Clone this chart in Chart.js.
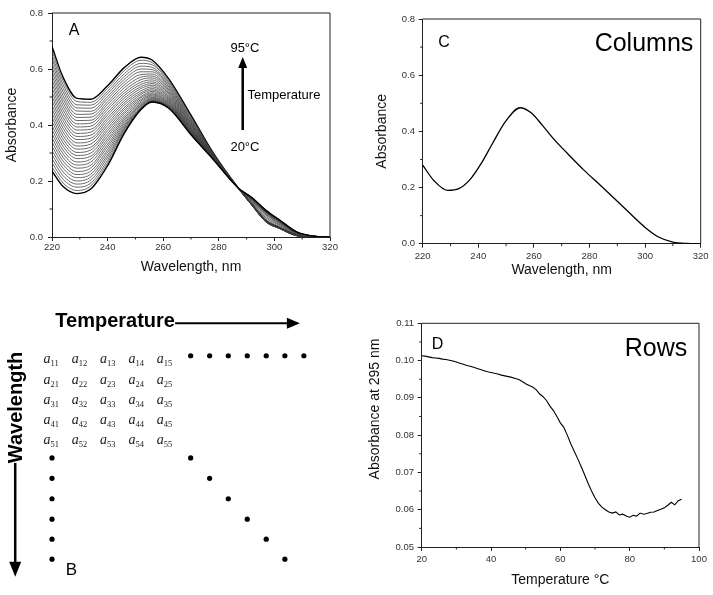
<!DOCTYPE html>
<html><head><meta charset="utf-8">
<script src="https://cdn.jsdelivr.net/npm/chart.js@4.4.1/dist/chart.umd.min.js"></script>
<style>
html,body{margin:0;padding:0;background:#fff;}
body{width:713px;height:595px;position:relative;overflow:hidden;}
canvas{position:absolute;display:block;}
</style></head><body>
<canvas id="cA" width="345" height="290" style="left:0;top:0"></canvas>
<canvas id="cC" width="363" height="290" style="left:350px;top:0"></canvas>
<canvas id="cB" width="340" height="305" style="left:0;top:290px"></canvas>
<canvas id="cD" width="363" height="305" style="left:350px;top:290px"></canvas>
<script>
// ---------- Panel A: spectra at each temperature ----------
const wavelengthsA = [220,224,229,234,240,246,252,256,262,270,278,287,292,297,302,308,314,320];
const temperaturesA = [20,22.5,25,27.5,30,32.5,35,37.5,40,42.5,45,47.5,50,52.5,55,57.5,60,62.5,65,67.5,70,72.5,75,77.5,80,82.5,85,87.5,90,92.5,95];
const absorbanceA = [
[.235,.180,.155,.172,.255,.370,.455,.482,.460,.365,.277,.175,.140,.095,.060,.018,.003,0],
[.250,.193,.166,.183,.265,.374,.455,.482,.460,.365,.277,.175,.140,.095,.060,.018,.003,0],
[.265,.206,.178,.193,.274,.379,.456,.483,.461,.366,.277,.175,.140,.094,.060,.018,.003,0],
[.280,.219,.189,.204,.284,.384,.458,.484,.462,.366,.277,.175,.139,.094,.059,.018,.003,0],
[.294,.232,.200,.215,.293,.389,.460,.486,.463,.367,.278,.175,.139,.093,.059,.017,.003,0],
[.309,.245,.212,.225,.303,.394,.462,.488,.464,.368,.278,.175,.138,.093,.058,.017,.003,0],
[.324,.258,.223,.236,.312,.400,.465,.490,.466,.369,.278,.175,.138,.092,.058,.017,.003,0],
[.339,.271,.234,.247,.322,.406,.469,.493,.468,.370,.279,.175,.138,.091,.057,.017,.003,0],
[.354,.284,.246,.257,.331,.412,.472,.496,.470,.372,.279,.175,.137,.091,.057,.017,.003,0],
[.369,.297,.257,.268,.341,.419,.476,.499,.472,.373,.280,.175,.137,.090,.056,.016,.003,0],
[.383,.310,.268,.279,.350,.425,.481,.503,.475,.375,.280,.175,.136,.090,.056,.016,.003,0],
[.398,.323,.280,.289,.360,.432,.486,.507,.477,.377,.281,.175,.136,.089,.056,.016,.003,0],
[.413,.336,.291,.300,.369,.440,.491,.511,.480,.379,.281,.175,.135,.088,.055,.016,.003,0],
[.428,.349,.302,.311,.379,.447,.497,.515,.483,.381,.282,.175,.134,.087,.054,.015,.003,0],
[.443,.362,.314,.321,.388,.455,.502,.520,.487,.383,.283,.175,.133,.084,.052,.015,.002,0],
[.457,.375,.325,.332,.398,.462,.509,.525,.490,.385,.284,.175,.131,.081,.050,.014,.002,0],
[.472,.388,.336,.343,.407,.471,.515,.530,.494,.388,.284,.175,.128,.078,.047,.012,.002,0],
[.487,.401,.348,.353,.417,.479,.522,.536,.498,.390,.285,.175,.125,.073,.044,.011,.002,0],
[.502,.414,.359,.364,.426,.487,.530,.542,.502,.393,.286,.175,.122,.068,.041,.009,.002,0],
[.517,.427,.370,.375,.436,.496,.537,.548,.506,.396,.287,.175,.119,.063,.037,.008,.001,0],
[.532,.440,.382,.385,.445,.505,.545,.554,.511,.399,.288,.175,.115,.058,.033,.006,.001,0],
[.547,.453,.393,.396,.455,.514,.553,.561,.515,.402,.289,.175,.113,.056,.031,.005,.001,0],
[.561,.466,.404,.407,.464,.523,.562,.568,.520,.405,.290,.175,.113,.054,.030,.005,.001,0],
[.576,.479,.416,.417,.474,.533,.571,.575,.525,.408,.291,.175,.112,.054,.030,.005,.001,0],
[.591,.492,.427,.428,.483,.543,.580,.582,.530,.412,.292,.175,.112,.053,.030,.005,.001,0],
[.606,.505,.438,.439,.493,.553,.590,.590,.536,.415,.294,.175,.112,.054,.030,.005,.001,0],
[.621,.518,.450,.449,.502,.563,.600,.598,.541,.419,.295,.175,.113,.054,.030,.005,.001,0],
[.636,.531,.461,.460,.512,.573,.610,.606,.547,.423,.296,.175,.113,.055,.031,.005,.001,0],
[.650,.544,.472,.471,.521,.583,.620,.615,.553,.427,.297,.175,.114,.056,.031,.005,.001,0],
[.665,.557,.484,.481,.531,.594,.631,.623,.559,.431,.299,.175,.114,.057,.032,.006,.001,0],
[.680,.570,.495,.492,.540,.605,.642,.632,.565,.435,.300,.175,.115,.058,.033,.006,.001,0]
];
// ---------- Panel C: one column (single spectrum) ----------
const wavelengthsC = [220,224,229,233,237,241,245,250,255,259,263,267,272,278,284,290,295,300,305,310,315,320];
const absorbanceC = [0.280,0.225,0.190,0.196,0.228,0.285,0.355,0.438,0.484,0.466,0.422,0.374,0.322,0.262,0.207,0.151,0.104,0.058,0.023,0.006,0.001,0];
// ---------- Panel D: one row (absorbance at 295 nm vs temperature) ----------
const temperaturesD = [20,21,22,23,24,25,26,27,28,29,30,31,32,33,34,35,36,37,38,39,40,41,42,43,44,45,46,47,48,49,50,51,52,53,54,55,56,57,58,59,60,61,62,63,64,65,66,67,68,69,70,71,72,73,74,75,76,77,78,79,80,81,82,83,84,85,86,87,88,89,90,91,92,93,94,95];
const absorbance295D = [.1013,.1012,.1010,.1008,.1007,.1006,.1004,.1003,.1001,.0999,.0996,.0993,.0990,.0987,.0985,.0982,.0979,.0976,.0973,.0970,.0968,.0966,.0964,.0961,.0959,.0957,.0955,.0952,.0949,.0944,.0938,.0933,.0929,.0922,.0911,.0903,.0893,.0878,.0866,.0850,.0833,.0821,.0800,.0777,.0757,.0737,.0716,.0694,.0671,.0650,.0632,.0617,.0607,.0600,.0594,.0591,.0594,.0586,.0588,.0583,.0580,.0585,.0583,.0591,.0588,.0590,.0593,.0594,.0598,.0601,.0605,.0612,.0620,.0613,.0624,.0628];
// ---------- Panel B: data matrix schematic ----------
const matrixRows = [1,2,3,4,5];
const matrixCols = [1,2,3,4,5];
const topDotCols = [5.9,6.57,7.23,7.9,8.57,9.23,9.9];
const topDotRow = 0.79;
const sideDotRows = [5.85,6.86,7.87,8.88,9.87,10.86];
const sideDotCol = 1;
const diagDotCols = [5.9,6.57,7.23,7.9,8.57,9.23];
// tick values
const ticksXWave = [220,240,260,280,300,320];
const minorXWave = [230,250,270,290,310];
const minorYAbs = [0.1,0.3,0.5,0.7];
const minorXTemp = [30,50,70,90];
const minorY295 = [0.055,0.065,0.075,0.085,0.095,0.105];

Chart.defaults.font.family = '"Liberation Sans", Arial, sans-serif';
Chart.defaults.color = '#222';

function framePlugin(id, minorX, minorY){
  return {id, afterDraw(chart){
    const {ctx, chartArea:a, scales:{x,y}} = chart;
    ctx.save();
    ctx.strokeStyle = '#222'; ctx.lineWidth = 1;
    ctx.beginPath();
    ctx.moveTo(a.left, a.top); ctx.lineTo(a.right, a.top); ctx.lineTo(a.right, a.bottom);
    ctx.stroke();
    ctx.beginPath();
    minorX.forEach(v=>{const p=x.getPixelForValue(v); ctx.moveTo(p,a.bottom); ctx.lineTo(p,a.bottom+2.5);});
    minorY.forEach(v=>{const p=y.getPixelForValue(v); ctx.moveTo(a.left,p); ctx.lineTo(a.left-2.5,p);});
    ctx.stroke();
    ctx.restore();
  }};
}
function notesPlugin(id, items){
  return {id, afterDraw(chart){
    const {ctx, scales:{x,y}} = chart;
    items.forEach(n=>{
      const px = n.px!==undefined ? n.px : x.getPixelForValue(n.x);
      const py = n.py!==undefined ? n.py : y.getPixelForValue(n.y);
      ctx.save();
      ctx.font = n.font; ctx.fillStyle = n.color||'#000';
      ctx.textAlign = n.align||'center'; ctx.textBaseline = 'middle';
      ctx.translate(px,py); if(n.rot) ctx.rotate(n.rot);
      ctx.fillText(n.text,0,0);
      ctx.restore();
    });
  }};
}
function arrowsPlugin(id, arrows){
  return {id, afterDraw(chart){
    const {ctx, scales:{x,y}} = chart;
    arrows.forEach(ar=>{
      const x1=x.getPixelForValue(ar.x1), y1=y.getPixelForValue(ar.y1);
      const x2=x.getPixelForValue(ar.x2), y2=y.getPixelForValue(ar.y2);
      const len=Math.hypot(x2-x1,y2-y1), ux=(x2-x1)/len, uy=(y2-y1)/len;
      const bx=x2-ux*ar.hl, by=y2-uy*ar.hl;
      ctx.save();
      ctx.strokeStyle='#000'; ctx.fillStyle='#000'; ctx.lineWidth=ar.w;
      ctx.beginPath(); ctx.moveTo(x1,y1); ctx.lineTo(bx+ux*2,by+uy*2); ctx.stroke();
      ctx.beginPath(); ctx.moveTo(x2,y2);
      ctx.lineTo(bx-uy*ar.hw/2, by+ux*ar.hw/2);
      ctx.lineTo(bx+uy*ar.hw/2, by-ux*ar.hw/2);
      ctx.closePath(); ctx.fill();
      ctx.restore();
    });
  }};
}
function axisX(min,max,step,title,tpad,pad,h,fmt){
  return {type:'linear',min,max,
    ticks:{stepSize:step,padding:pad,color:'#333',font:{size:9.5},callback:fmt},
    grid:{drawOnChartArea:false,tickLength:4,color:'#222'},
    border:{color:'#222'},
    title:{display:!!title,text:title,color:'#111',font:{size:14},padding:{top:0,bottom:tpad}},
    afterFit:s=>{s.height=h;}};
}
function axisY(min,max,step,title,tpad,pad,w,fmt){
  return {type:'linear',min,max,
    ticks:{stepSize:step,padding:pad,color:'#333',font:{size:9.5},callback:fmt},
    grid:{drawOnChartArea:false,tickLength:4,color:'#222'},
    border:{color:'#222'},
    title:{display:!!title,text:title,color:'#111',font:{size:14},padding:{top:tpad,bottom:0}},
    afterFit:s=>{s.width=w;}};
}
const base = {responsive:false,animation:false,devicePixelRatio:1,events:[],
  plugins:{legend:{display:false},tooltip:{enabled:false}}};

// Panel A
new Chart(document.getElementById('cA'),{
  type:'line',
  data:{datasets: temperaturesA.map((t,k)=>({
    label: t+' °C',
    data: wavelengthsA.map((w,i)=>({x:w,y:absorbanceA[k][i]})),
    borderColor: (k===0||k===temperaturesA.length-1)?'#000':'#3a3a3a',
    borderWidth: (k===0||k===temperaturesA.length-1)?1.4:0.75,
    pointRadius:0, cubicInterpolationMode:'monotone', fill:false}))},
  options:Object.assign({},base,{
    layout:{padding:{left:0,top:13,right:15,bottom:0},autoPadding:false},
    scales:{
      x:axisX(220,320,20,'Wavelength, nm',14.6,1,53,v=>v),
      y:axisY(0,0.8,0.2,'Absorbance',3.6,5,52,v=>v.toFixed(1))
    }}),
  plugins:[framePlugin('frameA',minorXWave,minorYAbs),
    notesPlugin('notesA',[
      {text:'A',x:227.9,y:0.736,font:'16px "Liberation Sans", Arial'},
      {text:'95°C',x:289.4,y:0.675,font:'13px "Liberation Sans", Arial'},
      {text:'Temperature',x:290.3,y:0.507,font:'13px "Liberation Sans", Arial',align:'left'},
      {text:'20°C',x:289.4,y:0.321,font:'13px "Liberation Sans", Arial'}
    ]),
    arrowsPlugin('arrowsA',[{x1:288.6,y1:0.382,x2:288.6,y2:0.643,w:2.5,hl:11,hw:9}])]
});

// Panel C
new Chart(document.getElementById('cC'),{
  type:'line',
  data:{datasets:[{label:'Column',
    data:wavelengthsC.map((w,i)=>({x:w,y:absorbanceC[i]})),
    borderColor:'#000',borderWidth:1.3,pointRadius:0,cubicInterpolationMode:'monotone',fill:false}]},
  options:Object.assign({},base,{
    layout:{padding:{left:0,top:19,right:12.3,bottom:0},autoPadding:false},
    scales:{
      x:axisX(220,320,20,'Wavelength, nm',11.6,3,46.3,v=>v),
      y:axisY(0,0.8,0.2,'Absorbance',23.6,3.7,72.7,v=>v.toFixed(1))
    }}),
  plugins:[framePlugin('frameC',minorXWave,minorYAbs),
    notesPlugin('notesC',[
      {text:'C',x:227.7,y:0.715,font:'16px "Liberation Sans", Arial'},
      {text:'Columns',x:299.6,y:0.711,font:'25px "Liberation Sans", Arial'}
    ])]
});

// Panel D
new Chart(document.getElementById('cD'),{
  type:'line',
  data:{datasets:[{label:'Row',
    data:temperaturesD.map((t,i)=>({x:t,y:absorbance295D[i]})),
    borderColor:'#000',borderWidth:1.1,pointRadius:0,tension:0,fill:false}]},
  options:Object.assign({},base,{
    layout:{padding:{left:0,top:33.3,right:14,bottom:0},autoPadding:false},
    scales:{
      x:axisX(20,100,20,'Temperature °C',6.6,3,48,v=>v),
      y:axisY(0.05,0.11,0.01,'',0,3.7,71.7,v=>v.toFixed(2))
    }}),
  plugins:[framePlugin('frameD',minorXTemp,minorY295),
    notesPlugin('notesD',[
      {text:'D',x:24.6,y:0.1044,font:'16px "Liberation Sans", Arial'},
      {text:'Rows',x:87.6,y:0.1032,font:'25px "Liberation Sans", Arial'},
      {text:'Absorbance at 295 nm',px:25,py:119,rot:-Math.PI/2,font:'14px "Liberation Sans", Arial',color:'#111'}
    ])]
});

// Panel B
const matrixPlugin = {id:'matrixB', afterDraw(chart){
  const {ctx, scales:{x,y}} = chart;
  ctx.save(); ctx.fillStyle='#222'; ctx.textAlign='left'; ctx.textBaseline='alphabetic';
  matrixRows.forEach(i=>matrixCols.forEach(j=>{
    const cx=x.getPixelForValue(j), cy=y.getPixelForValue(i);
    ctx.font='italic 14px "Liberation Serif", "Times New Roman", serif';
    ctx.fillText('a', cx-8.5, cy+3.5);
    ctx.font='8.5px "Liberation Serif", "Times New Roman", serif';
    ctx.fillText(String(i)+String(j), cx-1.5, cy+6.5);
  }));
  ctx.restore();
}};
new Chart(document.getElementById('cB'),{
  type:'scatter',
  data:{datasets:[
    {label:'top',data:topDotCols.map(c=>({x:c,y:topDotRow}))},
    {label:'side',data:sideDotRows.map(r=>({x:sideDotCol,y:r}))},
    {label:'diag',data:diagDotCols.map((c,i)=>({x:c,y:sideDotRows[i]}))}
  ].map(d=>Object.assign(d,{pointRadius:2.6,backgroundColor:'#000',borderWidth:0,clip:false}))},
  options:Object.assign({},base,{
    layout:{padding:0,autoPadding:false},
    scales:{
      x:{type:'linear',display:false,min:-0.8375,max:11.177},
      y:{type:'linear',display:false,reverse:true,min:-2.465,max:12.634}
    }}),
  plugins:[matrixPlugin,
    notesPlugin('notesB',[
      {text:'Temperature',x:3.23,y:-0.9,font:'bold 20px "Liberation Sans", Arial'},
      {text:'Wavelength',x:-0.27,y:3.35,rot:-Math.PI/2,font:'bold 20px "Liberation Sans", Arial'},
      {text:'B',x:1.69,y:11.4,font:'17px "Liberation Sans", Arial'}
    ]),
    arrowsPlugin('arrowsB',[
      {x1:5.35,y1:-0.82,x2:9.76,y2:-0.82,w:2,hl:13,hw:11},
      {x1:-0.3,y1:6.1,x2:-0.3,y2:11.73,w:2.5,hl:15,hw:12}
    ])]
});
</script>
</body></html>
